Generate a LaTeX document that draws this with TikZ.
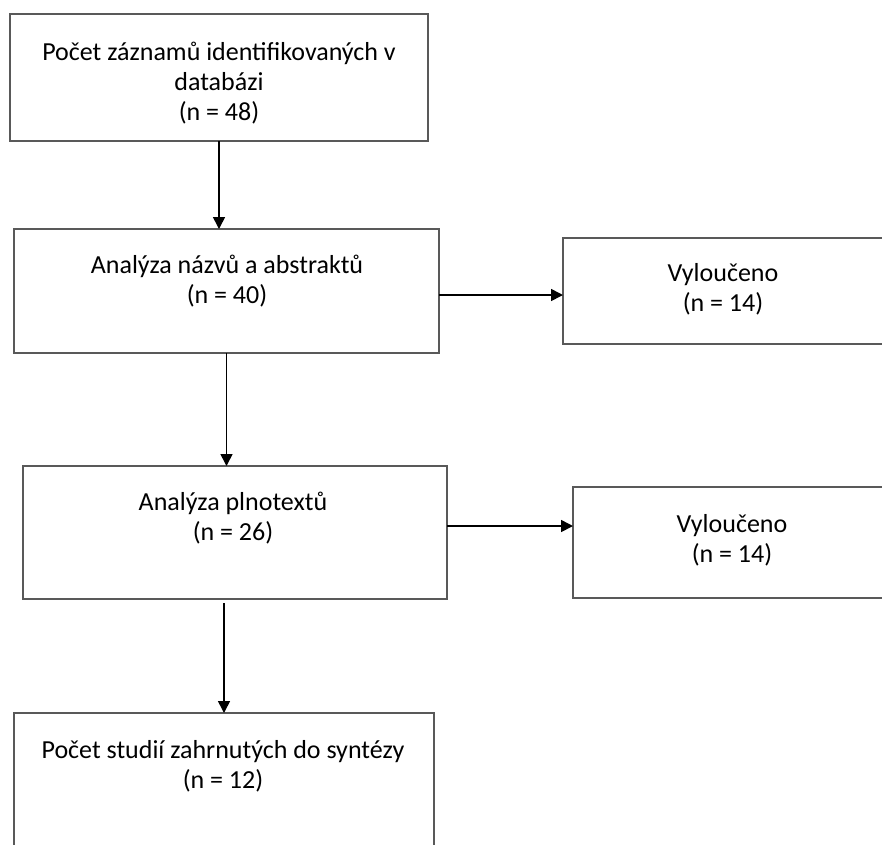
\documentclass[tikz,border=0pt]{standalone}
\usepackage{fontspec}
\setmainfont{Carlito}
\usetikzlibrary{
  positioning,
  arrows.meta,
  calc
}
\tikzset{
  >={Triangle[length=12pt,width=12pt]},
  box/.style={draw=black!65,line width=1.8pt,inner sep=0pt,outer sep=0pt},
  boxtext/.style={align=center,inner sep=0pt,font=\fontsize{26}{30}\selectfont},
  flow/.style={->,line width=1.6pt}
}

\begin{document}
\begin{tikzpicture}[x=1pt,y=-1pt]
\useasboundingbox (0,0) rectangle (882,844);
\clip (0,0) rectangle (882,844);
% main column
\node[box,minimum width=418pt,minimum height=127pt] (zaznamy) at (219,77.5) {};
\node[box,minimum width=425pt,minimum height=124pt] (nazvy) at (226.5,291) {};
\node[box,minimum width=424pt,minimum height=133pt] (plnotexty) at (235,532.5) {};
\node[box,minimum width=420pt,minimum height=147pt] (studie) at (224,786.5) {};
% excluded
\node[box,minimum width=327pt,minimum height=106pt] (vyl1) at (726.5,291) {};
\node[box,minimum width=317pt,minimum height=111pt] (vyl2) at (731.5,542.5) {};
% texts
\node[boxtext] (zaznamy-t) at (219,83) {Počet záznamů identifikovaných v\\databázi\\(n = 48)};
\node[boxtext] (nazvy-t) at (227,281.5) {Analýza názvů a abstraktů\\(n = 40)};
\node[boxtext] (plnotexty-t) at (233,518.5) {Analýza plnotextů\\(n = 26)};
\node[boxtext] (studie-t) at (223,766) {Počet studií zahrnutých do syntézy\\(n = 12)};
\node[boxtext] (vyl1-t) at (723,289) {Vyloučeno\\(n = 14)};
\node[boxtext] (vyl2-t) at (732,540) {Vyloučeno\\(n = 14)};
% arrows
\foreach \a/\b in {zaznamy/nazvy, nazvy/plnotexty} {
  \draw[flow] (\a.south) -- (\a.south |- \b.north);
}
\draw[flow] ([yshift=-4pt]plnotexty.south -| studie.north) -- (studie.north);
\draw[flow] ([yshift=-4pt]nazvy.east) -- ([yshift=-4pt]nazvy.east -| vyl1.west);
\draw[flow] ([yshift=6.5pt]plnotexty.east) -- ([yshift=6.5pt]plnotexty.east -| vyl2.west);
\end{tikzpicture}
\end{document}
